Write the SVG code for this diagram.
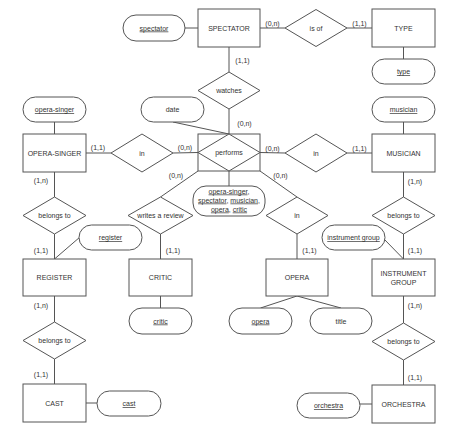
<svg xmlns="http://www.w3.org/2000/svg" width="454" height="429" viewBox="0 0 454 429">
<style>
.e{fill:#fff;stroke:#555;stroke-width:1}
.r{fill:#fff;stroke:#555;stroke-width:1}
.a{fill:#fff;stroke:#555;stroke-width:1}
.c line,.c polyline{stroke:#555;stroke-width:1;fill:none}
text{font-family:"Liberation Sans",Arial,sans-serif;font-size:7px;fill:#333;text-anchor:middle}
.u{text-decoration:underline}
</style>
<rect width="454" height="429" fill="#fff"/>
<g id="connectors" class="c">
<line x1="185" y1="28" x2="198" y2="28"/>
<line x1="260" y1="28" x2="285" y2="28"/>
<line x1="347" y1="28" x2="372" y2="28"/>
<line x1="403.5" y1="47" x2="403.5" y2="59"/>
<line x1="403.5" y1="122" x2="403.5" y2="134"/>
<line x1="229" y1="47" x2="229" y2="72"/>
<line x1="229" y1="109" x2="229" y2="134"/>
<line x1="173" y1="122" x2="229" y2="134"/>
<line x1="54.5" y1="122" x2="54.5" y2="134"/>
<line x1="86" y1="153" x2="111" y2="153"/>
<line x1="173" y1="153" x2="198" y2="152.5"/>
<line x1="260" y1="152.5" x2="285" y2="153"/>
<line x1="347" y1="153" x2="372" y2="153"/>
<line x1="229" y1="171" x2="229" y2="186"/>
<line x1="198" y1="171" x2="160.5" y2="197"/>
<line x1="260" y1="171" x2="297" y2="197"/>
<line x1="54.5" y1="172" x2="54.5" y2="197"/>
<line x1="54.5" y1="234" x2="54.5" y2="259"/>
<line x1="80" y1="237" x2="54.5" y2="259"/>
<line x1="54.5" y1="296" x2="54.5" y2="322"/>
<line x1="54.5" y1="359" x2="54.5" y2="384"/>
<line x1="86" y1="403" x2="97" y2="403"/>
<line x1="160.5" y1="234" x2="160.5" y2="259"/>
<line x1="160.5" y1="296" x2="160.5" y2="308"/>
<line x1="297" y1="234" x2="297" y2="259"/>
<line x1="297" y1="296" x2="260.5" y2="308"/>
<line x1="297" y1="296" x2="341" y2="308"/>
<line x1="403.5" y1="172" x2="403.5" y2="197"/>
<line x1="403.5" y1="234" x2="403.5" y2="259"/>
<line x1="384" y1="239" x2="403.5" y2="259"/>
<line x1="403.5" y1="296" x2="403.5" y2="323"/>
<line x1="403.5" y1="360" x2="403.5" y2="385"/>
<line x1="360" y1="404" x2="372" y2="404"/>
</g>
<g id="cardinalities">
<text x="272.5" y="25.5">(0,n)</text>
<text x="359.5" y="25.5">(1,1)</text>
<text x="242.5" y="62.5">(1,1)</text>
<text x="244.5" y="125.5">(0,n)</text>
<text x="98" y="149.5">(1,1)</text>
<text x="185" y="149.5">(0,n)</text>
<text x="272.5" y="150.5">(0,n)</text>
<text x="359.5" y="150.5">(1,1)</text>
<text x="176" y="177.5">(0,n)</text>
<text x="280.5" y="177.5">(0,n)</text>
<text x="41" y="182.5">(1,n)</text>
<text x="415" y="183.5">(1,n)</text>
<text x="41" y="252.5">(1,1)</text>
<text x="173" y="252.5">(1,1)</text>
<text x="309.5" y="252.5">(1,1)</text>
<text x="415" y="252.5">(1,1)</text>
<text x="41" y="307.5">(1,n)</text>
<text x="415" y="307.5">(1,n)</text>
<text x="41" y="376.5">(1,1)</text>
<text x="415" y="379.5">(1,1)</text>
</g>
<g id="spectator"><rect class="e" x="198" y="9" width="62" height="38"/><text x="229" y="30.5">SPECTATOR</text></g>
<g id="type"><rect class="e" x="372" y="9" width="63" height="38"/><text x="403.5" y="30.5">TYPE</text></g>
<g id="opera-singer"><rect class="e" x="23" y="134" width="63" height="38"/><text x="54.5" y="155.5">OPERA-SINGER</text></g>
<g id="musician"><rect class="e" x="372" y="134" width="63" height="38"/><text x="403.5" y="155.5">MUSICIAN</text></g>
<g id="register"><rect class="e" x="23" y="259" width="63" height="37"/><text x="54.5" y="280">REGISTER</text></g>
<g id="critic"><rect class="e" x="129" y="259" width="63" height="37"/><text x="160.5" y="280">CRITIC</text></g>
<g id="opera"><rect class="e" x="266" y="259" width="62" height="37"/><text x="297" y="280">OPERA</text></g>
<g id="instrument-group"><rect class="e" x="372" y="259" width="63" height="37"/><text x="403.5" y="275.5">INSTRUMENT</text><text x="403.5" y="284.5">GROUP</text></g>
<g id="cast"><rect class="e" x="23" y="384" width="63" height="38"/><text x="54.5" y="405.5">CAST</text></g>
<g id="orchestra"><rect class="e" x="372" y="385" width="63" height="38"/><text x="403.5" y="406.5">ORCHESTRA</text></g>
<g id="is-of"><polygon class="r" points="285,28 316,9.5 347,28 316,46.5"/><text x="316" y="30.5">is of</text></g>
<g id="watches"><polygon class="r" points="198,90.5 229,72 260,90.5 229,109"/><text x="229" y="93">watches</text></g>
<g id="performs"><rect class="e" x="198" y="134" width="62" height="37"/><polygon class="r" points="198,152.5 229,134 260,152.5 229,171"/><text x="229" y="155">performs</text></g>
<g id="in-singer"><polygon class="r" points="111,153 142,134 173,153 142,172"/><text x="142" y="155.5">in</text></g>
<g id="in-musician"><polygon class="r" points="285,153 316,134 347,153 316,172"/><text x="316" y="155.5">in</text></g>
<g id="belongs-register"><polygon class="r" points="23,215.5 54.5,197 86,215.5 54.5,234"/><text x="54.5" y="218">belongs to</text></g>
<g id="writes-review"><polygon class="r" points="128,215.5 160.5,197 193,215.5 160.5,234"/><text x="160.5" y="218">writes a review</text></g>
<g id="in-opera"><polygon class="r" points="266,215.5 297,197 328,215.5 297,234"/><text x="297" y="218">in</text></g>
<g id="belongs-group"><polygon class="r" points="372,215.5 403.5,197 435,215.5 403.5,234"/><text x="403.5" y="218">belongs to</text></g>
<g id="belongs-cast"><polygon class="r" points="23,340.5 54.5,322 86,340.5 54.5,359"/><text x="54.5" y="343">belongs to</text></g>
<g id="belongs-orchestra"><polygon class="r" points="372,341.5 403.5,323 435,341.5 403.5,360"/><text x="403.5" y="344">belongs to</text></g>
<g id="attr-spectator"><rect class="a" x="123" y="15" width="62" height="26" rx="13"/><text class="u" x="154" y="30.5">spectator</text></g>
<g id="attr-type"><rect class="a" x="372" y="59" width="63" height="25" rx="12.5"/><text class="u" x="403.5" y="74">type</text></g>
<g id="attr-musician"><rect class="a" x="372" y="97" width="63" height="25" rx="12.5"/><text class="u" x="403.5" y="112">musician</text></g>
<g id="attr-opera-singer"><rect class="a" x="23" y="97" width="63" height="25" rx="12.5"/><text class="u" x="54.5" y="112">opera-singer</text></g>
<g id="attr-date"><rect class="a" x="141" y="97" width="63" height="25" rx="12.5"/><text x="172.5" y="112">date</text></g>
<g id="attr-performs-key"><rect class="a" x="193" y="186" width="72" height="30" rx="13"/>
<text x="229" y="193.5"><tspan class="u">opera-singer</tspan>,</text>
<text x="229" y="202.5"><tspan class="u">spectator</tspan>, <tspan class="u">musician</tspan>,</text>
<text x="229" y="211.5"><tspan class="u">opera</tspan>, <tspan class="u">critic</tspan></text></g>
<g id="attr-register"><rect class="a" x="79" y="225" width="63" height="25" rx="12.5"/><text class="u" x="110.5" y="240">register</text></g>
<g id="attr-instrument-group"><rect class="a" x="322" y="225" width="63" height="25" rx="12.5"/><text class="u" x="353.5" y="240">instrument group</text></g>
<g id="attr-critic"><rect class="a" x="129" y="308" width="63" height="26" rx="13"/><text class="u" x="160.5" y="323.5">critic</text></g>
<g id="attr-opera"><rect class="a" x="229" y="308" width="63" height="26" rx="13"/><text class="u" x="260.5" y="323.5">opera</text></g>
<g id="attr-title"><rect class="a" x="310" y="308" width="62" height="26" rx="13"/><text x="341" y="323.5">title</text></g>
<g id="attr-cast"><rect class="a" x="97" y="391" width="64" height="25" rx="12.5"/><text class="u" x="129" y="406">cast</text></g>
<g id="attr-orchestra"><rect class="a" x="297" y="393" width="63" height="25" rx="12.5"/><text class="u" x="328.5" y="408">orchestra</text></g>
</svg>
